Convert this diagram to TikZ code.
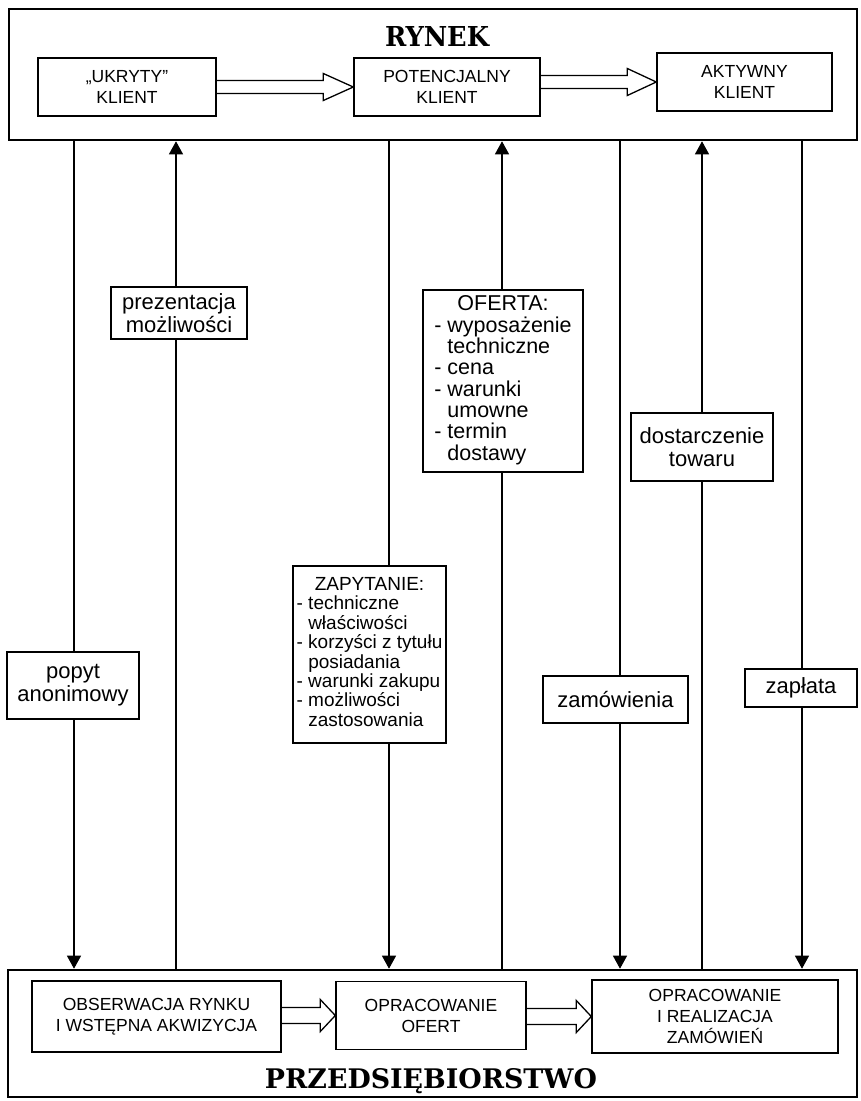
\documentclass[tikz,border=0pt]{standalone}
\usepackage{fontspec}
\setmainfont{Liberation Sans}
\newfontfamily\titlefont{DejaVu Serif}
\usepackage{graphicx}
\usetikzlibrary{arrows.meta,calc}

\begin{document}
\begin{tikzpicture}[x=1pt,y=-1pt,
  frame/.style={draw, line width=2.6pt, inner sep=0pt},
  stage/.style={draw, line width=1.4pt, inner sep=0pt, align=center,
                font=\fontsize{17.5}{21}\selectfont},
  lbl/.style={draw, line width=1.3pt, fill=white, inner sep=0pt, align=center,
              font=\fontsize{22}{23}\selectfont},
  flow/.style={line width=1.2pt},
  tip/.style={flow, -{Triangle[width=14pt,length=13pt]}},
  fat/.style={line width=1.3pt, line join=miter},
  title/.style={anchor=base, inner sep=0pt},
]
\useasboundingbox (0,0) rectangle (860,1101);
\fill[white] (0,0) rectangle (860,1101);

% the two outer frames
\node[frame, minimum width=848pt, minimum height=131pt] (rynek) at (433,74.5) {};
\node[frame, minimum width=849pt, minimum height=127pt] (firma) at (432.5,1033.5) {};

\node[title] (rynekT) at (437,46) {\resizebox{104pt}{20pt}{\titlefont\bfseries RYNEK}};
\node[title] (firmaT) at (431,1088) {\resizebox{332pt}{20pt}{\titlefont\bfseries PRZEDSIĘBIORSTWO}};

% stages of the client
\node[stage, minimum width=178pt, minimum height=58pt] (ukryty) at (127,87) {„UKRYTY”\\KLIENT};
\node[stage, minimum width=186pt, minimum height=58pt] (potenc) at (447,87) {POTENCJALNY\\KLIENT};
\node[stage, minimum width=175pt, minimum height=58pt] (aktyw) at (744.5,82) {AKTYWNY\\KLIENT};

% stages inside the company
\node[stage, minimum width=249pt, minimum height=71pt] (obserw) at (156.5,1016.5) {OBSERWACJA RYNKU\\I WSTĘPNA AKWIZYCJA};
\node[stage, minimum width=190pt, minimum height=68pt] (oferty) at (431,1015.5) {OPRACOWANIE\\OFERT};
\node[stage, minimum width=246pt, minimum height=73pt] (realiz) at (715,1016.5) {OPRACOWANIE\\I REALIZACJA\\ZAMÓWIEŃ};

% hollow block arrows between stages
\draw[fat] let \p1=(ukryty.east), \p2=(potenc.west) in
  (\x1,\y2+6.5) -- (\x2-30,\y2+6.5) -- (\x2-30,\y2+13.5) -- (\x2,\y2)
  -- (\x2-30,\y2-13.5) -- (\x2-30,\y2-6.5) -- (\x1,\y2-6.5);
\draw[fat] let \p1=(potenc.east), \p2=(aktyw.west) in
  (\x1,\y2+6.5) -- (\x2-29,\y2+6.5) -- (\x2-29,\y2+13.5) -- (\x2,\y2)
  -- (\x2-29,\y2-13.5) -- (\x2-29,\y2-6.5) -- (\x1,\y2-6.5);
\draw[fat] let \p1=(obserw.east), \p2=(oferty.west) in
  (\x1,\y2+8) -- (\x2-15,\y2+8) -- (\x2-15,\y2+16) -- (\x2,\y2)
  -- (\x2-15,\y2-16) -- (\x2-15,\y2-8) -- (\x1,\y2-8);
\draw[fat] let \p1=(oferty.east), \p2=(realiz.west) in
  (\x1,\y2+8) -- (\x2-15,\y2+8) -- (\x2-15,\y2+16) -- (\x2,\y2)
  -- (\x2-15,\y2-16) -- (\x2-15,\y2-8) -- (\x1,\y2-8);

% message boxes
\node[lbl, minimum width=132pt, minimum height=67pt] (popyt) at (73,685.5) {popyt\\anonimowy};
\node[lbl, minimum width=136pt, minimum height=52pt] (prezent) at (179,313) {prezentacja\\możliwości};
\node[lbl, minimum width=153pt, minimum height=177pt, font=\fontsize{19}{18.4}\selectfont] (zapyt) at (369.5,654.5)
  {\begin{tabular}{@{}l@{}}
   \multicolumn{1}{@{}c@{}}{ZAPYTANIE:}\\
   - techniczne\\
   \phantom{- }właściwości\\
   - korzyści z tytułu\\
   \phantom{- }posiadania\\
   - warunki zakupu\\
   - możliwości\\
   \phantom{- }zastosowania
   \end{tabular}};
\node[lbl, minimum width=160pt, minimum height=182pt, font=\fontsize{21.5}{20.7}\selectfont] (oferta) at (503,381)
  {\begin{tabular}{@{}l@{}}
   \multicolumn{1}{@{}c@{}}{OFERTA:}\\
   - wyposażenie\\
   \phantom{- }techniczne\\
   - cena\\
   - warunki\\
   \phantom{- }umowne\\
   - termin\\
   \phantom{- }dostawy
   \end{tabular}};
\node[lbl, minimum width=145pt, minimum height=47pt] (zamow) at (615.5,699.5) {zamówienia};
\node[lbl, minimum width=142pt, minimum height=68pt] (dostaw) at (702,447) {dostarczenie\\towaru};
\node[lbl, minimum width=112pt, minimum height=38pt] (zaplata) at (801,688) {zapłata};

% vertical lanes
\coordinate (l1) at (74,0);
\coordinate (l2) at (176,0);
\coordinate (l3) at (389,0);
\coordinate (l4) at (502,0);
\coordinate (l5) at (620,0);
\coordinate (l6) at (702,0);
\coordinate (l7) at (802,0);

% market -> company
\draw[flow] (l1 |- rynek.south) -- (l1 |- popyt.north);
\draw[tip]  (l1 |- popyt.south) -- (l1 |- firma.north);
\draw[flow] (l3 |- rynek.south) -- (l3 |- zapyt.north);
\draw[tip]  (l3 |- zapyt.south) -- (l3 |- firma.north);
\draw[flow] (l5 |- rynek.south) -- (l5 |- zamow.north);
\draw[tip]  (l5 |- zamow.south) -- (l5 |- firma.north);
\draw[flow] (l7 |- rynek.south) -- (l7 |- zaplata.north);
\draw[tip]  (l7 |- zaplata.south) -- (l7 |- firma.north);

% company -> market
\draw[flow] (l2 |- firma.north) -- (l2 |- prezent.south);
\draw[tip]  (l2 |- prezent.north) -- (l2 |- rynek.south);
\draw[flow] (l4 |- firma.north) -- (l4 |- oferta.south);
\draw[tip]  (l4 |- oferta.north) -- (l4 |- rynek.south);
\draw[flow] (l6 |- firma.north) -- (l6 |- dostaw.south);
\draw[tip]  (l6 |- dostaw.north) -- (l6 |- rynek.south);
\end{tikzpicture}
\end{document}
